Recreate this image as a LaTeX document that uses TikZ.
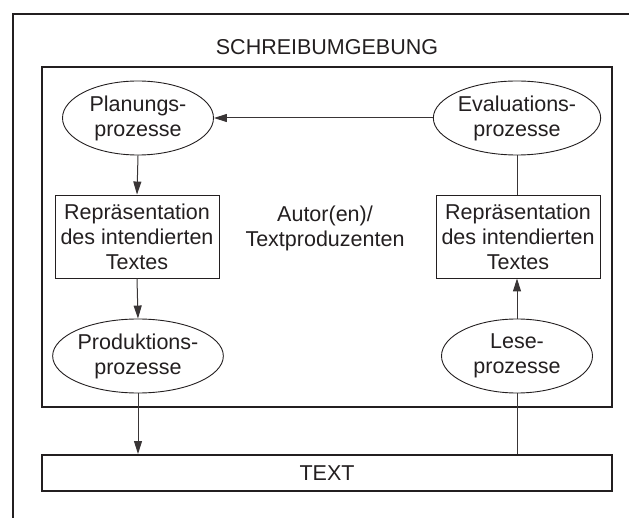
\documentclass[tikz,border=0pt]{standalone}
\usepackage{fontspec}
\setmainfont{Liberation Sans}
\usetikzlibrary{shapes.geometric,arrows.meta}
\definecolor{ink}{HTML}{231F20}
\tikzset{
  lbl/.style={font=\fontsize{21.5}{25}\selectfont, text=ink, align=center, inner sep=0pt},
  proc/.style={lbl, draw=ink, line width=0.9pt, ellipse, minimum width=151pt, minimum height=74pt},
  repbox/.style={lbl, draw=ink, line width=0.9pt, rectangle, minimum width=164pt, minimum height=83pt},
  heavy/.style={draw=ink, line width=2pt},
  link/.style={draw=ink!90, line width=1pt},
  arr/.style={link, -{Triangle[length=13pt,width=8pt]}}
}
\begin{document}
\begin{tikzpicture}[x=1pt,y=-1pt]
\useasboundingbox (0,0) rectangle (629,518);
\clip (0,0) rectangle (629,518);
% surrounding writing environment (runs past the page edges)
\draw[heavy] (640,14.5) -- (12.5,14.5) -- (12.5,530);
\node[lbl] (env) at (327,47) {SCHREIBUMGEBUNG};
% author(s) area
\node[heavy, rectangle, minimum width=570pt, minimum height=340pt, inner sep=0pt] (author) at (327,237) {};
\node[lbl] (authlbl) at (325,228) {Autor(en)/\\Textproduzenten};
% processes and representations
\node[proc] (plan) at (138,118) {Planungs-\\prozesse};
\node[proc] (eval) at (517,118) {Evaluations-\\prozesse};
\node[repbox] (repL) at (137,236.5) {Repräsentation\\des intendierten\\Textes};
\node[repbox] (repR) at (518,236.5) {Repräsentation\\des intendierten\\Textes};
\node[proc] (prod) at (138,356) {Produktions-\\prozesse};
\node[proc] (lese) at (517,356) {Lese-\\prozesse};
% the text produced
\node[lbl, heavy, rectangle, minimum width=570pt, minimum height=36pt] (text) at (327,473) {TEXT};
% connectors
\draw[arr] (eval.west) -- (plan.east);
\draw[arr] (plan.south) -- (repL.north);
\draw[arr] (repL.south) -- (prod.north);
\draw[arr] (prod.south) -- (prod.south |- text.north);
\draw[link] (eval.south) -- (eval.south |- repR.north);
\draw[arr] (lese.north) -- (lese.north |- repR.south);
\draw[link] (lese.south) -- (lese.south |- text.north);
\end{tikzpicture}
\end{document}
